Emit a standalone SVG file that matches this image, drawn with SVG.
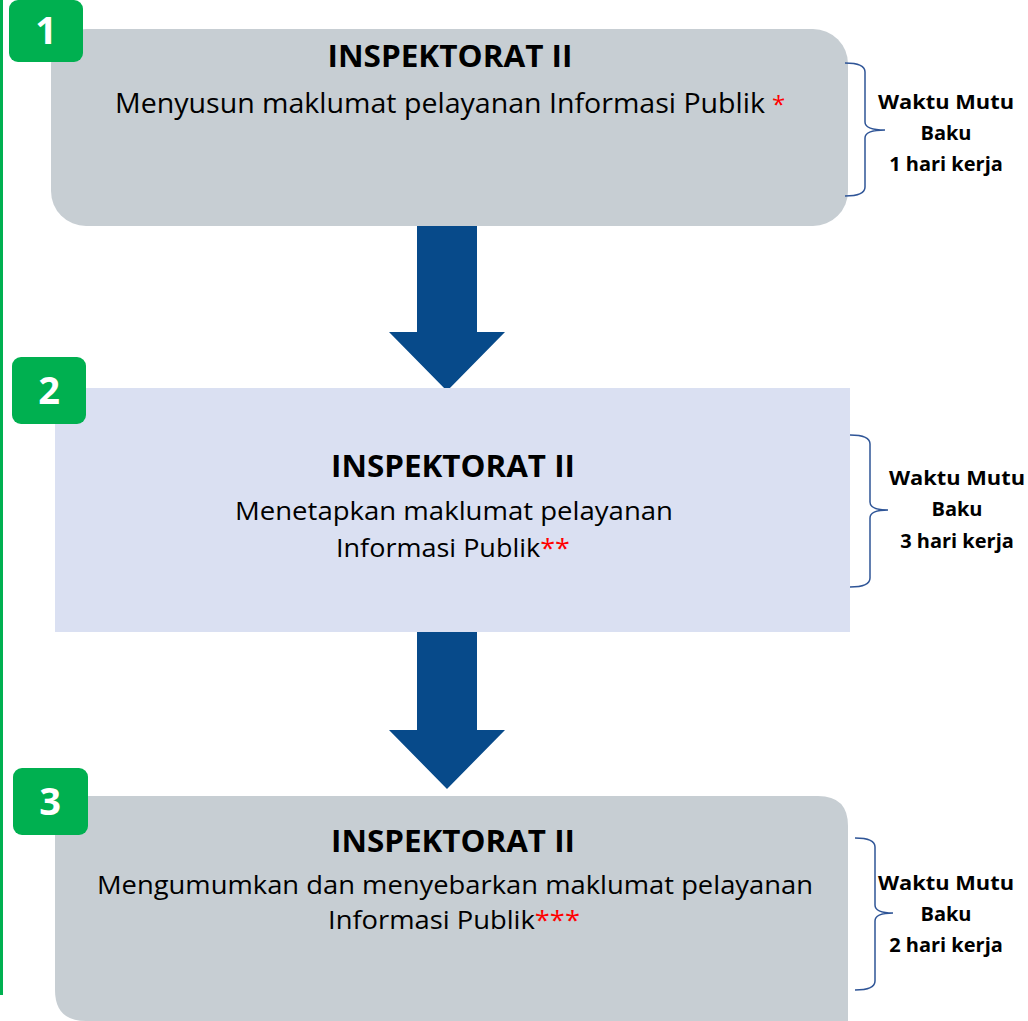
<svg xmlns="http://www.w3.org/2000/svg" width="1028" height="1021" viewBox="0 0 1028 1021">
<style>
.box1{fill:#c7ced3}
.box2{fill:#dae0f2}
.badge{fill:#00b050}
.num{font-family:"Open Sans","Liberation Sans",sans-serif;font-weight:bold;font-size:38px;fill:#fff;text-anchor:middle}
.title{font-family:"Open Sans","Liberation Sans",sans-serif;font-weight:bold;font-size:30px;fill:#000;text-anchor:middle}
.body{font-family:"Open Sans","Liberation Sans",sans-serif;font-size:26px;fill:#000;text-anchor:middle}
.lead{font-family:"Open Sans","Liberation Sans",sans-serif;font-size:28px;fill:#000;text-anchor:start}
.red{fill:#ff0000}
.side{font-family:"Open Sans","Liberation Sans",sans-serif;font-weight:bold;font-size:20px;fill:#000;text-anchor:middle}
.brace{fill:none;stroke:#2f5597;stroke-width:1.5}
.arrow{fill:#074a8a}
</style>
<rect x="0" y="0" width="3" height="995" fill="#00b050"/>
<g id="connectors">
<path class="arrow" d="M417 226 H477 V332 H505 L447 391 L389 332 H417 Z"/>
<path class="arrow" d="M417 632 H477 V730 H505 L447 789 L389 730 H417 Z"/>
</g>
<g id="node1">
<rect class="box1" x="51" y="29" width="797" height="197" rx="35"/>
<rect class="badge" x="9" y="0" width="74" height="62" rx="9"/>
<text class="num" x="46" y="44">1</text>
<text class="title" x="450" y="67" textLength="245" lengthAdjust="spacingAndGlyphs">INSPEKTORAT II</text>
<text class="lead" x="115" y="113" textLength="650" lengthAdjust="spacingAndGlyphs">Menyusun maklumat pelayanan Informasi Publik</text>
<text class="lead red" x="772" y="113" font-size="24" style="font-size:24px">*</text>
</g>
<g id="brace1">
<path class="brace" d="M845 63 Q865 63 865 72 V122 Q865 130 885 130 Q865 130 865 138 V187 Q865 196 845 196"/>
<text class="side" x="946" y="109" textLength="136" lengthAdjust="spacingAndGlyphs">Waktu Mutu</text>
<text class="side" x="946" y="140">Baku</text>
<text class="side" x="946" y="171">1 hari kerja</text>
</g>
<g id="node2">
<rect class="box2" x="55" y="388" width="795" height="244"/>
<rect class="badge" x="12" y="357" width="74" height="67" rx="9"/>
<text class="num" x="49" y="404">2</text>
<text class="title" x="453" y="477" textLength="244" lengthAdjust="spacingAndGlyphs">INSPEKTORAT II</text>
<text class="body" x="454" y="520" textLength="438" lengthAdjust="spacingAndGlyphs">Menetapkan maklumat pelayanan</text>
<text class="body" x="453" y="557" textLength="234" lengthAdjust="spacingAndGlyphs"><tspan>Informasi Publik</tspan><tspan class="red">**</tspan></text>
</g>
<g id="brace2">
<path class="brace" d="M850 435 Q870 435 870 444 V502 Q870 510 888 510 Q870 510 870 518 V578 Q870 587 850 587"/>
<text class="side" x="957" y="485" textLength="136" lengthAdjust="spacingAndGlyphs">Waktu Mutu</text>
<text class="side" x="957" y="516">Baku</text>
<text class="side" x="957" y="548">3 hari kerja</text>
</g>
<g id="node3">
<path class="box1" d="M55 826 Q55 796 85 796 H818 Q848 796 848 826 V1021 H86 Q55 1021 55 990 Z"/>
<rect class="badge" x="13" y="768" width="75" height="67" rx="9"/>
<text class="num" x="50" y="815">3</text>
<text class="title" x="453" y="852" textLength="244" lengthAdjust="spacingAndGlyphs">INSPEKTORAT II</text>
<text class="body" x="455" y="894" textLength="716" lengthAdjust="spacingAndGlyphs">Mengumumkan dan menyebarkan maklumat pelayanan</text>
<text class="body" x="454" y="929" textLength="252" lengthAdjust="spacingAndGlyphs"><tspan>Informasi Publik</tspan><tspan class="red">***</tspan></text>
</g>
<g id="brace3">
<path class="brace" d="M855 838 Q875 838 875 847 V905 Q875 913 893 913 Q875 913 875 921 V981 Q875 990 855 990"/>
<text class="side" x="946" y="890" textLength="136" lengthAdjust="spacingAndGlyphs">Waktu Mutu</text>
<text class="side" x="946" y="921">Baku</text>
<text class="side" x="946" y="952">2 hari kerja</text>
</g>
</svg>
